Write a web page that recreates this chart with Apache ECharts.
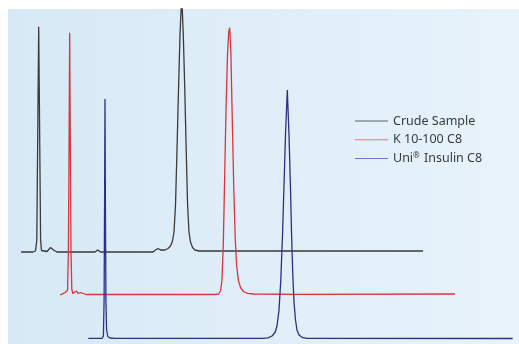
<!DOCTYPE html>
<html>
<head>
<meta charset="utf-8">
<script src="https://cdn.jsdelivr.net/npm/echarts@6/dist/echarts.min.js"></script>
<style>
html,body{margin:0;padding:0;background:#ffffff;}
#chart{width:519px;height:344px;}
</style>
</head>
<body>
<div id="chart"></div>
<script>
// Series names (legend)
const seriesNames = ['Crude Sample', 'K 10-100 C8', 'Uni® Insulin C8'];

// Crude Sample trace: retention position and signal
const crudeTime = [21,33,35.5,36.8,37.6,38.7,39.8,40.6,41.5,43,44.5,45.5,47,49,50.5,51.5,52.5,53.5,54.5,55.5,57,95,97.7,100.5,153,155.5,158,160.5,162.5,165,168,170.5,172.5,174,175.5,177,178.5,180,181.7,183.3,184.8,186.2,187.6,189,190.5,192.5,195,199,230,423];
const crudeSignal = [92,92,93,104,194,317.3,194,104,93.5,92,93,94.5,92.5,92.5,96.5,98.5,96,94,95.5,93.5,92,92,94,92,92,94,95.5,94,93,94,95.5,98,103,112,139,194,254,309,349,309,254,194,139,112,102,96.5,94,93,93,93];

// K 10-100 C8 trace
const kTime = [60,62,63,64,65.3,66.5,67.6,68.4,69.1,69.7,70.3,71,71.8,72.8,74.5,76.5,78,79.5,80.5,82.5,86,215,218.5,220.5,222,223.3,224.6,226,227.5,228.7,229.7,230.8,232.2,233.7,235.2,236.6,238.3,240.5,243.5,247.5,254,300,455];
const kSignal = [49,49.3,50.3,49.8,51.5,50.5,54,94,204,311.3,204,94,55,50.5,50.5,53,50.5,52,51.5,50,49.5,49.5,50,53,64,100,164,234,289,312,316.3,294,229,159,106,79,64,56.5,52.5,50.7,50,49.7,50];

// Uni® Insulin C8 trace
const uniTime = [88.3,102,103.4,104.1,104.6,105,105.4,105.9,106.6,107.8,110,115,262,268,272,275,277,279,280.8,282.5,284,285.5,287.3,289,290.4,291.6,292.8,294,295.5,297,299,302,307,512.7];
const uniSignal = [5.7,5.7,8,44,144,245,144,44,14,7.5,6,5.7,5.7,6.2,8,11.5,18,34,64,109,159,209,254,209,159,109,69,42,24,14,9,6.7,5.7,5.5];

const lineColors = ['#3a3a3a', '#d8353d', '#2c2f86'];
const legendColors = ['#5e5e5e', '#e8767e', '#7476cc'];

function zip(xs, ys) { return xs.map((x, i) => [x, ys[i]]); }
const traces = [zip(crudeTime, crudeSignal), zip(kTime, kSignal), zip(uniTime, uniSignal)];

const chart = echarts.init(document.getElementById('chart'), null, {renderer: 'canvas'});
chart.setOption({
  animation: false,
  grid: {
    left: 8, top: 9, right: 0, bottom: 0,
    show: true, borderWidth: 0,
    backgroundColor: new echarts.graphic.LinearGradient(0, 0, 1, 0, [
      {offset: 0, color: '#d7e9f6'},
      {offset: 1, color: '#e8f3fb'}
    ])
  },
  xAxis: {type: 'value', min: 8, max: 519, show: false},
  yAxis: {type: 'value', min: 0, max: 335, show: false},
  legend: {
    orient: 'vertical',
    left: 355,
    top: 113,
    padding: 0,
    icon: 'rect',
    itemWidth: 33,
    itemHeight: 1,
    itemGap: 2.7,
    itemTextGap: 5,
    data: seriesNames.map((n, i) => ({name: n, itemStyle: {color: legendColors[i]}})),
    formatter: n => n.replace('®', '{sup|®}'),
    textStyle: {
      fontFamily: 'Noto Sans',
      fontSize: 12.5,
      lineHeight: 16,
      color: '#3a3a3a',
      rich: {
        sup: {fontFamily: 'Noto Sans', fontSize: 8, color: '#3a3a3a', padding: [0, 1, 6, 0]}
      }
    }
  },
  series: seriesNames.map((n, i) => ({
    name: n,
    type: 'line',
    data: traces[i],
    showSymbol: false,
    symbol: 'none',
    clip: true,
    lineStyle: {color: lineColors[i], width: 1.3},
    itemStyle: {color: lineColors[i]}
  }))
});
</script>
</body>
</html>
